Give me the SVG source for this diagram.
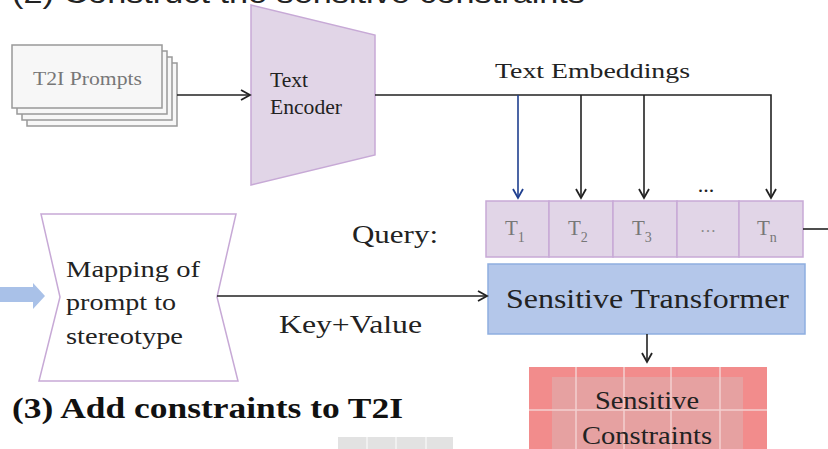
<svg xmlns="http://www.w3.org/2000/svg" width="828" height="449" viewBox="0 0 828 449">
<style>
.serif{font-family:"Liberation Serif","Times New Roman",serif;}
.sans{font-family:"Liberation Sans",Arial,sans-serif;}
.lbl{fill:#222;}
.cell{fill:#e1d5e7;stroke:#c7a9d6;stroke-width:1.5;}
.conn{fill:none;stroke:#222;stroke-width:1.6;}
.tok{fill:#777;font-size:21px;}
</style>
<defs>
<marker id="ah" markerWidth="12" markerHeight="12" refX="10" refY="6" orient="auto" markerUnits="userSpaceOnUse">
<path d="M1,1 L10,6 L1,11" fill="none" stroke="#222" stroke-width="1.8"/>
</marker>
<marker id="ahb" markerWidth="12" markerHeight="12" refX="10" refY="6" orient="auto" markerUnits="userSpaceOnUse">
<path d="M1,1 L10,6 L1,11" fill="none" stroke="#1f3f8f" stroke-width="1.8"/>
</marker>
</defs>
<rect width="828" height="449" fill="#fff"/>

<g id="title2">
<text class="sans" x="12" y="3" font-size="28" fill="#222" textLength="573" lengthAdjust="spacingAndGlyphs">(2) Construct the sensitive constraints</text>
</g>

<g id="t2i-prompts">
<rect x="27" y="63" width="150" height="63" fill="#f7f7f7" stroke="#999" stroke-width="1.5"/>
<rect x="22" y="57" width="150" height="63" fill="#f7f7f7" stroke="#999" stroke-width="1.5"/>
<rect x="17" y="51" width="150" height="63" fill="#f7f7f7" stroke="#999" stroke-width="1.5"/>
<rect x="12" y="45" width="150" height="63" fill="#f7f7f7" stroke="#999" stroke-width="1.5"/>
<text class="serif" x="33" y="85" font-size="19" fill="#777" textLength="109" lengthAdjust="spacingAndGlyphs">T2I Prompts</text>
</g>

<g id="text-encoder">
<polygon points="251,5 375,35 375,155 251,185" fill="#e1d5e7" stroke="#c7a9d6" stroke-width="1.5"/>
<text class="serif lbl" x="270" y="87" font-size="20" textLength="38" lengthAdjust="spacingAndGlyphs">Text</text>
<text class="serif lbl" x="270" y="114" font-size="20" textLength="72" lengthAdjust="spacingAndGlyphs">Encoder</text>
</g>

<g id="mapping">
<polygon points="41,214 236,214 217,297 238,381 39,381 60,297" fill="#fff" stroke="#c7a9d6" stroke-width="1.5"/>
<text class="serif lbl" x="66" y="277" font-size="23" textLength="134" lengthAdjust="spacingAndGlyphs">Mapping of</text>
<text class="serif lbl" x="66" y="310" font-size="23" textLength="110" lengthAdjust="spacingAndGlyphs">prompt to</text>
<text class="serif lbl" x="66" y="344" font-size="23" textLength="117" lengthAdjust="spacingAndGlyphs">stereotype</text>
</g>

<g id="input-arrow">
<polygon points="0,287 33,287 33,283 45,296 33,309 33,302 0,302" fill="#a9c1e8"/>
</g>

<g id="query-tokens">
<rect class="cell" x="486" y="201" width="63" height="56"/>
<rect class="cell" x="549" y="201" width="64" height="56"/>
<rect class="cell" x="613" y="201" width="64" height="56"/>
<rect class="cell" x="677" y="201" width="62" height="56"/>
<rect class="cell" x="739" y="201" width="64" height="56"/>
<text class="serif tok" x="505" y="235">T<tspan font-size="14" dy="7">1</tspan></text>
<text class="serif tok" x="568" y="235">T<tspan font-size="14" dy="7">2</tspan></text>
<text class="serif tok" x="632" y="235">T<tspan font-size="14" dy="7">3</tspan></text>
<text class="serif" x="708" y="232" font-size="16" fill="#888" text-anchor="middle">…</text>
<text class="serif tok" x="757" y="235">T<tspan font-size="14" dy="7">n</tspan></text>
</g>

<g id="query-label">
<text class="serif lbl" x="352" y="243" font-size="25" textLength="86" lengthAdjust="spacingAndGlyphs">Query:</text>
</g>

<g id="sensitive-transformer">
<rect x="488" y="264" width="317" height="70" fill="#b4c7ea" stroke="#8eaee0" stroke-width="1.5"/>
<text class="serif lbl" x="506" y="308" font-size="27" textLength="283" lengthAdjust="spacingAndGlyphs">Sensitive Transformer</text>
</g>

<g id="sensitive-constraints">
<rect x="529" y="367" width="238" height="90" fill="#f28c8c"/>
<rect x="552" y="377" width="191" height="80" fill="#e6a1a1"/>
<g stroke="#f3d0d0" stroke-width="1.5">
<line x1="576" y1="367" x2="576" y2="449"/>
<line x1="624" y1="367" x2="624" y2="449"/>
<line x1="671" y1="367" x2="671" y2="449"/>
<line x1="720" y1="367" x2="720" y2="449"/>
<line x1="529" y1="410" x2="767" y2="410"/>
</g>
<text class="serif lbl" x="595" y="409" font-size="26" textLength="104" lengthAdjust="spacingAndGlyphs">Sensitive</text>
<text class="serif lbl" x="582" y="444" font-size="26" textLength="130" lengthAdjust="spacingAndGlyphs">Constraints</text>
</g>

<g id="title3">
<text class="serif" x="12" y="418" font-size="30" font-weight="bold" fill="#111" textLength="391" lengthAdjust="spacingAndGlyphs">(3) Add constraints to T2I</text>
</g>

<g id="grey-cells">
<rect x="338" y="437" width="115" height="20" fill="#e2e2e2"/>
<g stroke="#f5f5f5" stroke-width="1.5">
<line x1="367" y1="437" x2="367" y2="449"/>
<line x1="396" y1="437" x2="396" y2="449"/>
<line x1="426" y1="437" x2="426" y2="449"/>
</g>
</g>

<g id="connectors">
<line class="conn" x1="177" y1="95" x2="250" y2="95" marker-end="url(#ah)"/>
<polyline class="conn" points="375,95 771,95 771,198" marker-end="url(#ah)"/>
<line x1="518" y1="95" x2="518" y2="198" fill="none" stroke="#1f3f8f" stroke-width="1.6" marker-end="url(#ahb)"/>
<line class="conn" x1="581" y1="95" x2="581" y2="198" marker-end="url(#ah)"/>
<line class="conn" x1="644" y1="95" x2="644" y2="198" marker-end="url(#ah)"/>
<text class="serif" x="706" y="192" font-size="22" fill="#222" text-anchor="middle">...</text>
<text class="serif lbl" x="495" y="78" font-size="22" textLength="195" lengthAdjust="spacingAndGlyphs">Text Embeddings</text>
<line class="conn" x1="217" y1="296" x2="487" y2="296" marker-end="url(#ah)"/>
<text class="serif lbl" x="279" y="333" font-size="25" textLength="143" lengthAdjust="spacingAndGlyphs">Key+Value</text>
<line class="conn" x1="647" y1="334" x2="647" y2="362" marker-end="url(#ah)"/>
<line class="conn" x1="803" y1="229" x2="828" y2="229"/>
</g>
</svg>
